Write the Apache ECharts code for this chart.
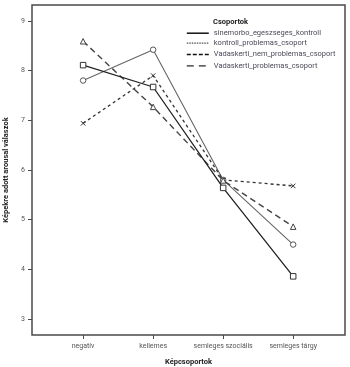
<!DOCTYPE html>
<html>
<head>
<meta charset="utf-8">
<script src="https://cdn.jsdelivr.net/npm/echarts@6/dist/echarts.min.js"></script>
<style>
  html, body { margin: 0; padding: 0; background: #fff; }
  #main { width: 350px; height: 367px; }
</style>
</head>
<body>
<div id="main"></div>
<script>
// kategoriak es csoportok
var categories = ['negatív', 'kellemes', 'semleges szociális', 'semleges tárgy'];
var groupNames = ['sinemorbo_egeszseges_kontroll', 'kontroll_problemas_csoport',
    'Vadaskerti_nem_problemas_csoport', 'Vadaskerti_problemas_csoport'];

// atlagos arousal ertekek csoportonkent
var sinemorboValues = [8.11, 7.67, 5.64, 3.86];
var kontrollProbValues = [7.80, 8.42, 5.80, 4.50];
var vadNemProbValues = [6.94, 7.90, 5.80, 5.68];
var vadProbValues = [8.59, 7.27, 5.79, 4.86];

var yTicks = [3, 4, 5, 6, 7, 8, 9];

function toPoints(values) {
    return values.map(function(v, i) {
        return [i + 1, v];
    });
}

var font = 'Roboto, "DejaVu Sans", sans-serif';
var frameColor = '#4a4a4a';

var xPath = 'path://M0,0L10,10M10,0L0,10';

var option = {
    animation: false,
    backgroundColor: '#fff',
    title: {
        text: 'Csoportok',
        left: 208,
        top: 13,
        textStyle: {
            fontFamily: font,
            fontSize: 7.5,
            fontWeight: 'bold',
            color: '#222'
        }
    },
    legend: {
        orient: 'vertical',
        left: 181,
        top: 24,
        itemWidth: 22,
        itemHeight: 8,
        itemGap: 1.5,
        itemStyle: { opacity: 0 },
        textStyle: {
            fontFamily: font,
            fontSize: 7.5,
            color: '#4a4a58'
        },
        data: [
            { name: groupNames[0], lineStyle: { color: '#111', width: 1.5, type: 'solid' } },
            { name: groupNames[1], lineStyle: { color: '#222', width: 1, type: [1.5, 1] } },
            { name: groupNames[2], lineStyle: { color: '#111', width: 1.6, type: [4, 2] } },
            { name: groupNames[3], lineStyle: { color: '#666', width: 1.6, type: [7, 5] } }
        ]
    },
    grid: {
        left: 32,
        right: 5,
        top: 5,
        bottom: 32,
        outerBoundsMode: 'none',
        containLabel: false,
        show: true,
        borderColor: frameColor,
        borderWidth: 1.5,
        backgroundColor: '#fff'
    },
    xAxis: {
        type: 'value',
        min: 0.27,
        max: 4.74,
        name: 'Képcsoportok',
        nameLocation: 'middle',
        nameGap: 23,
        nameTextStyle: {
            fontFamily: font,
            fontSize: 7.5,
            fontWeight: 'bold',
            color: '#222'
        },
        axisLine: { show: false },
        splitLine: { show: false },
        axisTick: {
            show: true,
            length: 4,
            customValues: [1, 2, 3, 4],
            lineStyle: { color: frameColor, width: 1 }
        },
        axisLabel: {
            customValues: [1, 2, 3, 4],
            margin: 8,
            fontFamily: font,
            fontSize: 7,
            color: '#555',
            formatter: function(v) {
                return categories[Math.round(v) - 1] || '';
            }
        }
    },
    yAxis: {
        type: 'value',
        min: 2.68,
        max: 9.32,
        name: 'Képekre adott arousal válaszok',
        nameLocation: 'middle',
        nameGap: 20,
        nameTextStyle: {
            fontFamily: font,
            fontSize: 7.5,
            fontWeight: 'bold',
            color: '#222'
        },
        axisLine: { show: false },
        splitLine: { show: false },
        axisTick: {
            show: true,
            length: 4,
            customValues: yTicks,
            lineStyle: { color: frameColor, width: 1 }
        },
        axisLabel: {
            customValues: yTicks,
            margin: 7,
            fontFamily: font,
            fontSize: 7,
            color: '#555'
        }
    },
    series: [{
        name: groupNames[0],
        type: 'line',
        data: toPoints(sinemorboValues),
        symbol: 'rect',
        symbolSize: 5.5,
        itemStyle: { color: '#fff', borderColor: '#333', borderWidth: 1 },
        lineStyle: { color: '#222', width: 1.3, type: 'solid' },
        z: 4
    }, {
        name: groupNames[1],
        type: 'line',
        data: toPoints(kontrollProbValues),
        symbol: 'circle',
        symbolSize: 5.5,
        itemStyle: { color: '#fff', borderColor: '#555', borderWidth: 1 },
        lineStyle: { color: '#666', width: 1.1, type: 'solid' },
        z: 3
    }, {
        name: groupNames[2],
        type: 'line',
        data: toPoints(vadNemProbValues),
        symbol: xPath,
        symbolSize: 4.5,
        itemStyle: { color: 'none', borderColor: '#333', borderWidth: 1 },
        lineStyle: { color: '#333', width: 1.3, type: [3, 3] },
        z: 3
    }, {
        name: groupNames[3],
        type: 'line',
        data: toPoints(vadProbValues),
        symbol: 'triangle',
        symbolSize: 5.5,
        itemStyle: { color: '#fff', borderColor: '#444', borderWidth: 1 },
        lineStyle: { color: '#444', width: 1.4, type: [6, 4] },
        z: 3
    }]
};

var myChart = echarts.init(document.getElementById('main'));
myChart.setOption(option);
</script>
</body>
</html>
